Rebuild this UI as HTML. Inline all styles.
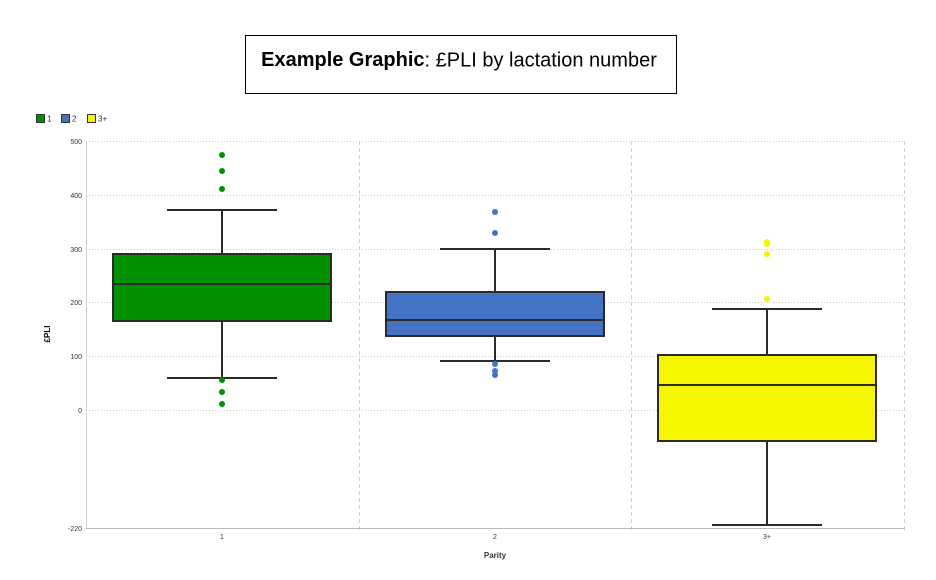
<!DOCTYPE html>
<html><head><style>body{margin:0;background:#fff;}</style></head><body>
<svg width="936" height="575" xmlns="http://www.w3.org/2000/svg" font-family="Liberation Sans, sans-serif">
<rect x="245.5" y="35.5" width="431" height="58" fill="#fff" stroke="#000" stroke-width="1"/>
<text x="459" y="61" font-size="20" text-anchor="middle" dominant-baseline="middle"><tspan font-weight="bold">Example Graphic</tspan>: £PLI by lactation number</text>
<g font-size="8" fill="#333">
<rect x="36.5" y="114.5" width="8" height="8" fill="#009000" stroke="#333"/><text x="47" y="121.5">1</text>
<rect x="61.5" y="114.5" width="8" height="8" fill="#4472c4" stroke="#333"/><text x="72" y="121.5">2</text>
<rect x="87.5" y="114.5" width="8" height="8" fill="#f5f500" stroke="#333"/><text x="98" y="121.5">3+</text>
</g>
<g stroke="#ccc" stroke-dasharray="1,2" stroke-width="1">
<line x1="86" y1="141.5" x2="904" y2="141.5"/><line x1="86" y1="195.5" x2="904" y2="195.5"/>
<line x1="86" y1="249.5" x2="904" y2="249.5"/><line x1="86" y1="302.5" x2="904" y2="302.5"/>
<line x1="86" y1="356.5" x2="904" y2="356.5"/><line x1="86" y1="410.5" x2="904" y2="410.5"/>
</g>
<g stroke="#ccc" stroke-dasharray="4,3"><line x1="359.5" y1="141" x2="359.5" y2="533"/><line x1="631.5" y1="141" x2="631.5" y2="533"/><line x1="904.5" y1="141" x2="904.5" y2="533"/></g>
<line x1="86.5" y1="141" x2="86.5" y2="528" stroke="#ccc"/>
<line x1="86" y1="528.5" x2="904" y2="528.5" stroke="#bbb"/>
<g font-size="7" fill="#333" text-anchor="end">
<text x="82" y="144">500</text><text x="82" y="198">400</text><text x="82" y="252">300</text><text x="82" y="305">200</text><text x="82" y="359">100</text><text x="82" y="413">0</text><text x="82" y="531">-220</text>
</g>
<g font-size="7" fill="#333" text-anchor="middle"><text x="222" y="539">1</text><text x="495" y="539">2</text><text x="767" y="539">3+</text></g>
<text x="495" y="558" font-size="8" font-weight="bold" fill="#333" text-anchor="middle">Parity</text>
<text transform="translate(50,334) rotate(-90)" font-size="8" font-weight="bold" text-anchor="middle">£PLI</text>
<g stroke="#2a2a2a" stroke-width="2">
<line x1="222" y1="210" x2="222" y2="378"/><line x1="167" y1="210" x2="277" y2="210"/><line x1="167" y1="378" x2="277" y2="378"/>
<rect x="113" y="254" width="218" height="67" fill="#009000"/><line x1="113" y1="284" x2="331" y2="284"/>
<line x1="495" y1="249" x2="495" y2="361"/><line x1="440" y1="249" x2="550" y2="249"/><line x1="440" y1="361" x2="550" y2="361"/>
<rect x="386" y="292" width="218" height="44" fill="#4472c4"/><line x1="386" y1="320" x2="604" y2="320"/>
<line x1="767" y1="309" x2="767" y2="525"/><line x1="712" y1="309" x2="822" y2="309"/><line x1="712" y1="525" x2="822" y2="525"/>
<rect x="658" y="355" width="218" height="86" fill="#f5f500"/><line x1="658" y1="385" x2="876" y2="385"/>
</g>
<g fill="#009000"><circle cx="222" cy="155" r="3"/><circle cx="222" cy="171" r="3"/><circle cx="222" cy="189" r="3"/><circle cx="222" cy="380" r="3"/><circle cx="222" cy="392" r="3"/><circle cx="222" cy="404" r="3"/></g>
<g fill="#4472c4"><circle cx="495" cy="212" r="3"/><circle cx="495" cy="233" r="3"/><circle cx="495" cy="364" r="3"/><circle cx="495" cy="371" r="3"/><circle cx="495" cy="375" r="3"/></g>
<g fill="#f5f500"><circle cx="767" cy="242" r="3"/><circle cx="767" cy="244" r="3"/><circle cx="767" cy="254" r="3"/><circle cx="767" cy="299" r="3"/></g>
</svg>
</body></html>
